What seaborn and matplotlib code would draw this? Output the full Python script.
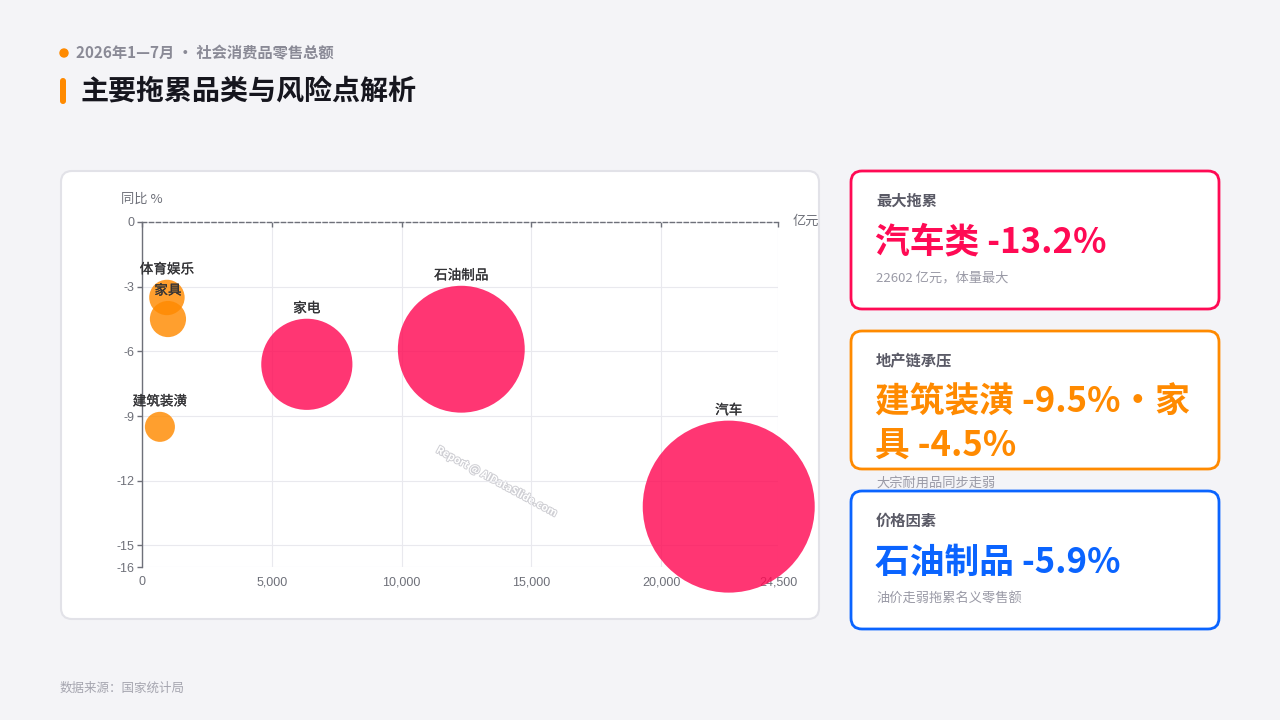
import numpy as np
import pandas as pd
import seaborn as sns
import matplotlib.pyplot as plt
from matplotlib.patches import FancyBboxPatch, Circle
from matplotlib import patheffects

# data
categories = ["汽车", "石油制品", "家电", "体育娱乐", "家具", "建筑装潢"]
sales = [22602, 12300, 6350, 960, 1000, 690]          # 亿元
yoy = [-13.2, -5.9, -6.6, -3.5, -4.5, -9.5]           # 同比 %
groups = ["主力", "主力", "主力", "地产链", "地产链", "地产链"]

x_ticks = [0, 5000, 10000, 15000, 20000, 24500]
y_ticks = [0, -3, -6, -9, -12, -15, -16]

PINK = "#FF0A54"
ORANGE = "#FF8A00"
BLUE = "#0A64FF"
AXIS = "#6E7079"

sns.set_theme(style="white")
plt.rcParams["font.family"] = ["Noto Sans CJK SC", "DejaVu Sans"]
TICKFONT = ["Liberation Sans", "DejaVu Sans"]

W, H = 1280, 720
fig = plt.figure(figsize=(12.8, 7.2), dpi=100)
fig.patch.set_facecolor("#F4F4F7")

# background layer in pixel coordinates
bg = fig.add_axes([0, 0, 1, 1])
bg.set_xlim(0, W)
bg.set_ylim(H, 0)
bg.axis("off")


def card(x0, y0, x1, y1, edge, lw):
    bg.add_patch(FancyBboxPatch((x0, y0), x1 - x0, y1 - y0,
                                boxstyle="round,pad=0,rounding_size=11",
                                fc="white", ec=edge, lw=lw))


# header
bg.add_patch(Circle((64, 53), 4, color=ORANGE))
bg.text(76, 53, "2026年1—7月 • 社会消费品零售总额", fontsize=11, fontweight="bold",
        color="#8A8A96", va="center")
bg.add_patch(FancyBboxPatch((60, 78), 6, 26, boxstyle="round,pad=0,rounding_size=3",
                            fc=ORANGE, ec="none"))
bg.text(80, 92, "主要拖累品类与风险点解析", fontsize=20.2, fontweight="bold",
        color="#16161E", va="center")

# chart card + side cards
card(61, 171, 819, 619, "#E2E2E8", 1.5)
card(851, 171, 1219, 309, PINK, 2)
card(851, 331, 1219, 469, ORANGE, 2)
card(851, 491, 1219, 629, BLUE, 2)

cards = [
    (201, "最大拖累", ["汽车类 -13.2%"], PINK, "22602 亿元，体量最大"),
    (361, "地产链承压", ["建筑装潢 -9.5%•家", "具 -4.5%"], ORANGE, "大宗耐用品同步走弱"),
    (521, "价格因素", ["石油制品 -5.9%"], BLUE, "油价走弱拖累名义零售额"),
]
for y0, head, lines, col, sub in cards:
    bg.text(876, y0, head, fontsize=11, fontweight="bold", color="#5A5A66", va="center")
    for i, line in enumerate(lines):
        bg.text(875, y0 + 41 + i * 43, line, fontsize=25, fontweight="bold",
                color=col, va="center")
    bg.text(876, y0 + 77 + (len(lines) - 1) * 45, sub, fontsize=9.5,
            color="#9A9AA6", va="center")

bg.text(60, 688, "数据来源：国家统计局", fontsize=9, color="#A5A5AF", va="center")

# watermark
bg.text(497, 482, "Report @ AIDataSlide.com", rotation=-28.5, fontsize=7.5,
        fontweight="bold", color="white", ha="center", va="center",
        path_effects=[patheffects.withStroke(linewidth=1.4, foreground="#CFCFD4")])

# bubble chart
df = pd.DataFrame({"cat": categories, "sales": sales, "yoy": yoy, "group": groups})

ax = fig.add_axes([142 / W, 1 - 567 / H, (778 - 142) / W, (567 - 222) / H])
ax.set_facecolor("none")

k = 0.6785  # marker area (pt^2) per 亿元
smin, smax = min(sales), max(sales)
sns.scatterplot(data=df, x="sales", y="yoy", hue="group",
                palette={"主力": PINK, "地产链": ORANGE},
                size="sales", sizes=(k * smin, k * smax), size_norm=(smin, smax),
                alpha=0.82, linewidth=0, legend=False, ax=ax,
                clip_on=False, zorder=3)

for _, row in df.iterrows():
    r_pt = np.sqrt(k * row["sales"]) / 2
    ax.annotate(row["cat"], (row["sales"], row["yoy"]),
                xytext=(0, r_pt + 7.5), textcoords="offset points",
                ha="center", va="center", fontsize=9.8,
                color="#333336", zorder=5, annotation_clip=False,
                path_effects=[patheffects.withStroke(linewidth=0.15, foreground="#333336")])

ax.set_xlim(0, 24500)
ax.set_ylim(-16, 0)
ax.set_xticks(x_ticks, labels=[f"{v:,}" for v in x_ticks])
ax.set_yticks(y_ticks, labels=[str(v) for v in y_ticks])
ax.set_xlabel("")
ax.set_ylabel("")
ax.grid(True, color="#E9E9EE", lw=0.8)
ax.set_axisbelow(True)

for side in ["right", "bottom"]:
    ax.spines[side].set_visible(False)
ax.spines["left"].set_color(AXIS)
ax.spines["left"].set_linewidth(1)
ax.spines["top"].set_color(AXIS)
ax.spines["top"].set_linewidth(1)
ax.spines["top"].set_linestyle((0, (3, 2)))

ax.tick_params(axis="x", bottom=False, top=True, labelbottom=True, labeltop=False,
               direction="in", length=3.6, width=1, color=AXIS, pad=6.5,
               labelsize=9, labelcolor=AXIS)
ax.tick_params(axis="y", left=True, direction="out", length=3.6, width=1,
               color=AXIS, pad=2, labelsize=9, labelcolor=AXIS)
for lab in ax.get_xticklabels() + ax.get_yticklabels():
    lab.set_family(TICKFONT)

bg.text(142, 199, "同比 %", fontsize=9.5, color=AXIS, ha="center", va="center")
bg.text(793, 221, "亿元", fontsize=9.5, color=AXIS, ha="left", va="center")

fig.savefig("out.png", dpi=100)
